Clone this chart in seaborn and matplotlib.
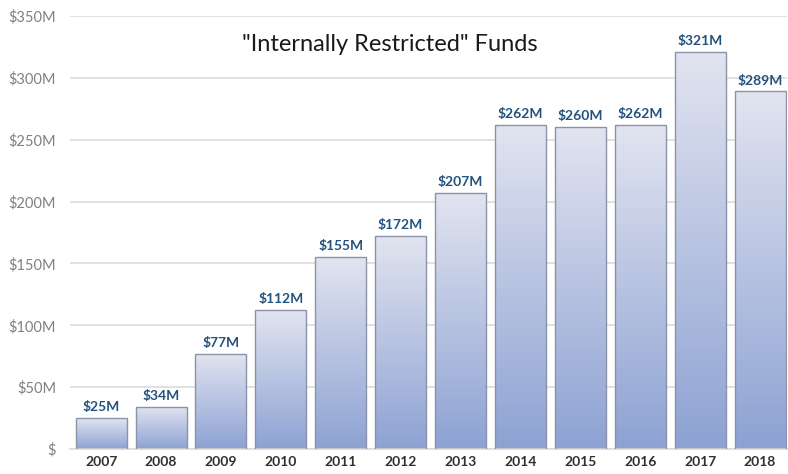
import numpy as np
import pandas as pd
import matplotlib
matplotlib.use("Agg")
import matplotlib.pyplot as plt
import seaborn as sns
from matplotlib.colors import LinearSegmentedColormap

years = ["2007", "2008", "2009", "2010", "2011", "2012", "2013", "2014", "2015", "2016", "2017", "2018"]
funds = [25, 34, 77, 112, 155, 172, 207, 262, 260, 262, 321, 289]
value_labels = ["$25M", "$34M", "$77M", "$112M", "$155M", "$172M", "$207M", "$262M", "$260M", "$262M", "$321M", "$289M"]
y_ticks = [0, 50, 100, 150, 200, 250, 300, 350]
y_tick_labels = ["$", "$50M", "$100M", "$150M", "$200M", "$250M", "$300M", "$350M"]
title = '"Internally Restricted" Funds'

sns.set_theme(style="white")
plt.rcParams['font.family'] = ['Lato', 'DejaVu Sans']

df = pd.DataFrame({"year": years, "funds": funds})

fig = plt.figure(figsize=(7.88, 4.74), dpi=100)
ax = fig.add_axes([70/788, 25/474, 717/788, 433/474])

sns.barplot(data=df, x="year", y="funds", ax=ax, width=0.85, color="#b0bce0",
            edgecolor="#8a93a8", linewidth=1.0, zorder=3)

cmap = LinearSegmentedColormap.from_list("g", ["#8da2d3", "#e2e4f0"])
grad = np.linspace(0, 1, 256).reshape(-1, 1)
for p in ax.patches:
    x0, y0 = p.get_x(), p.get_y()
    w, h = p.get_width(), p.get_height()
    im = ax.imshow(grad, cmap=cmap, aspect="auto", origin="lower",
                   extent=[x0, x0 + w, y0, y0 + h], zorder=2.5)
    im.set_clip_path(p)
    p.set_facecolor("none")

ax.set_xlim(-0.52, 11.45)
ax.set_ylim(0, 350)
ax.set_yticks(y_ticks)
ax.set_yticklabels(y_tick_labels)
ax.yaxis.grid(True, color="#dcdcdc", linewidth=1.2, zorder=0)
ax.set_axisbelow(True)
for s in ["top", "right", "left"]:
    ax.spines[s].set_visible(False)
ax.spines["bottom"].set_color("#dcdcdc")
ax.set_xlabel("")
ax.set_ylabel("")
ax.tick_params(axis="y", colors="#808080", labelsize=10.5, length=0, pad=10)
ax.tick_params(axis="x", colors="#303030", labelsize=10, length=0, pad=5)
for lab in ax.get_xticklabels():
    lab.set_fontweight("bold")

for i, (v, t) in enumerate(zip(funds, value_labels)):
    ax.text(i, v + 4, t, ha="center", va="bottom", fontsize=10, fontweight="bold",
            color="#24527f", zorder=5)

ax.text(4.82, 327, title, ha="center", va="center", fontsize=17, color="#1a1a1a")

fig.savefig("out.png", dpi=100)
